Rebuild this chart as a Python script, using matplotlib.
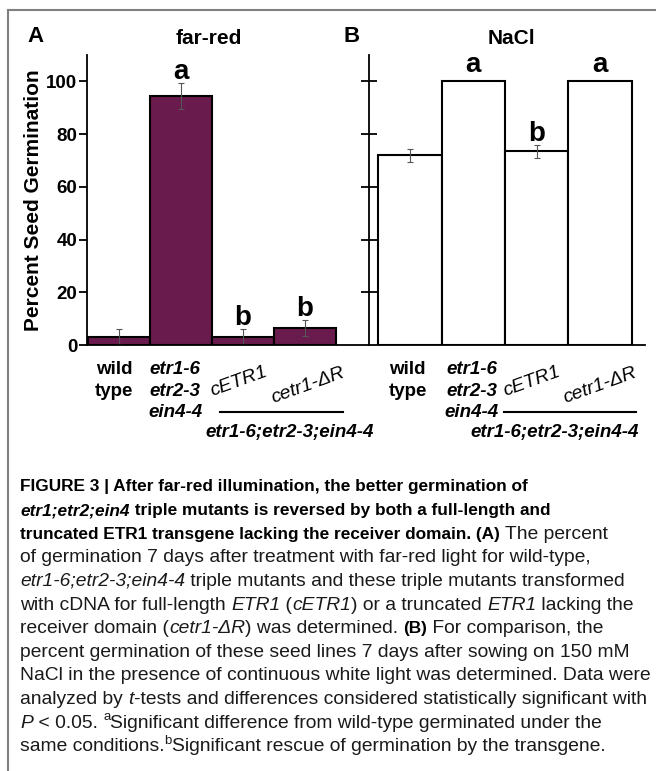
import matplotlib
matplotlib.use('Agg')
import matplotlib.pyplot as plt
from matplotlib.lines import Line2D

W, H = 656, 771

# Data
positions = [0, 1, 2, 3]
farred_mean = [3.2, 94.4, 3.2, 6.4]
farred_err = [2.8, 5.0, 2.8, 3.0]
farred_sig = ['', 'a', 'b', 'b']
nacl_mean = [71.9, 100, 73.4, 100]
nacl_err = [2.5, 0, 2.5, 0]
nacl_sig = ['', 'a', 'b', 'a']
yticks = [0, 20, 40, 60, 80, 100]
yticks_b = [20, 40, 60, 80, 100]

plt.rcParams['font.family'] = ['Liberation Sans', 'DejaVu Sans']

cap_family = ['Liberation Sans', 'DejaVu Sans']
cap_bold = 12.4
cap_reg = 13.9

fig = plt.figure(figsize=(W / 100, H / 100), dpi=100)

purple = '#6a1b4d'

def px(x, y):
    return x / W, 1 - y / H

axA = fig.add_axes([87 / W, 1 - 345 / H, (369 - 87) / W, 290 / H])
axB = fig.add_axes([369 / W, 1 - 345 / H, (645 - 369) / W, 290 / H])

for ax in (axA, axB):
    ax.set_ylim(0, 110)
    ax.set_xticks([])
    ax.spines['top'].set_visible(False)
    ax.spines['right'].set_visible(False)
    ax.spines['left'].set_linewidth(1.3)
    ax.spines['bottom'].set_linewidth(1.3)
    ax.patch.set_visible(False)

axA.set_xlim(-0.516, 4.032)
axB.set_xlim(-0.642, 3.705)

# panel A bars
axA.bar(positions, farred_mean, width=1.0, color=purple, edgecolor='black', linewidth=1.5)
axA.errorbar(positions, farred_mean, yerr=farred_err, fmt='none', ecolor='#555555',
             elinewidth=0.8, capsize=2.5, capthick=0.8)
axA.set_yticks(yticks)
axA.tick_params(axis='y', direction='out', length=6, width=1.3, labelsize=13.5, pad=1)
for lbl in axA.get_yticklabels():
    lbl.set_fontweight('bold')
axA.set_ylabel('Percent Seed Germination', fontsize=15, fontweight='bold', labelpad=2)

# panel B bars
axB.bar(positions, nacl_mean, width=1.0, color='white', edgecolor='black', linewidth=1.5)
xb = [p for p, e in zip(positions, nacl_err) if e > 0]
mb = [m for m, e in zip(nacl_mean, nacl_err) if e > 0]
eb = [e for e in nacl_err if e > 0]
axB.errorbar(xb, mb, yerr=eb, fmt='none', ecolor='#555555', elinewidth=0.8, capsize=2.5, capthick=0.8)
axB.set_yticks(yticks_b)
axB.tick_params(axis='y', direction='inout', length=11, width=1.3, labelleft=False)

# significance letters
for ax, means, errs, sigs in ((axA, farred_mean, farred_err, farred_sig),
                              (axB, nacl_mean, nacl_err, nacl_sig)):
    for p, m, e, s in zip(positions, means, errs, sigs):
        if s:
            off = 4 if e > 0 else 9
            ax.annotate(s, xy=(p, m + e), xytext=(0, off), textcoords='offset pixels',
                        ha='center', va='baseline', fontsize=20, fontweight='bold')

# genotype labels under the bars (offsets in pixels from bar centre / baseline)
def labels(ax, dx_wt, dx_trip, dx_c, dx_d, line_x, bottom_x):
    kw = dict(xycoords=('data', 'axes fraction'), textcoords='offset pixels', annotation_clip=False)
    ax.annotate('wild\ntype', xy=(0, 0), xytext=(dx_wt, -16), ha='center', va='top',
                fontsize=13.5, fontweight='bold', linespacing=1.35, **kw)
    ax.annotate('etr1-6\netr2-3\nein4-4', xy=(1, 0), xytext=(dx_trip, -16), ha='center', va='top',
                fontsize=13.5, fontweight='bold', style='italic', linespacing=1.35, **kw)
    ax.annotate('cETR1', xy=(2, 0), xytext=(dx_c, -37), ha='center', va='center', rotation=20,
                rotation_mode='anchor', fontsize=14, style='italic', **kw)
    ax.annotate('cetr1-ΔR', xy=(3, 0), xytext=(dx_d, -41), ha='center', va='center', rotation=20,
                rotation_mode='anchor', fontsize=14, style='italic', **kw)
    x0, x1 = line_x
    fig.add_artist(Line2D([x0 / W, x1 / W], [1 - 412 / H, 1 - 412 / H], color='black', lw=1.5))
    fig.text(bottom_x / W, 1 - 433 / H, 'etr1-6;etr2-3;ein4-4', ha='center', va='center',
             fontsize=13.5, fontweight='bold', style='italic')

labels(axA, -5, -6, -4, 3, (220, 343), 290)
labels(axB, -2, -1.5, -5, 0, (504, 636), 555)

# titles and panel letters
fig.text(*px(209, 39), 'far-red', ha='center', va='center', fontsize=15, fontweight='bold')
fig.text(*px(511, 39), 'NaCl', ha='center', va='center', fontsize=15, fontweight='bold')
fig.text(*px(35, 37), 'A', ha='center', va='center', fontsize=16, fontweight='bold')
fig.text(*px(352, 37), 'B', ha='center', va='center', fontsize=16, fontweight='bold')

# page frame (top and left edges)
fig.add_artist(Line2D([8 / W, 8 / W], [0, 1 - 10 / H], color='#808080', lw=1.5))
fig.add_artist(Line2D([8 / W, 1], [1 - 10 / H, 1 - 10 / H], color='#808080', lw=1.5))

# caption with mixed styles
renderer = fig.canvas.get_renderer()

def seg_props(kind):
    p = dict(family=cap_family, fontsize=cap_reg, color='#1a1a1a')
    if 'B' in kind:
        p['fontweight'] = 'bold'
        p['fontsize'] = cap_bold
        p['color'] = 'black'
    if 'I' in kind:
        p['style'] = 'italic'
    if 'S' in kind:
        p['fontsize'] = cap_reg * 0.68
    return p

def text_width(s, props):
    t1 = fig.text(0, 0, '|' + s + '|', **props)
    t2 = fig.text(0, 0, '||', **props)
    w = t1.get_window_extent(renderer).width - t2.get_window_extent(renderer).width
    t1.remove()
    t2.remove()
    return w

caption = [
    [('B', 'FIGURE 3 | After far-red illumination, the better germination of')],
    [('BI', 'etr1;etr2;ein4'), ('B', ' triple mutants is reversed by both a full-length and')],
    [('B', 'truncated ETR1 transgene lacking the receiver domain. (A)'), ('R', ' The percent')],
    [('R', 'of germination 7 days after treatment with far-red light for wild-type,')],
    [('I', 'etr1-6;etr2-3;ein4-4'), ('R', ' triple mutants and these triple mutants transformed')],
    [('R', 'with cDNA for full-length '), ('I', 'ETR1'), ('R', ' ('), ('I', 'cETR1'),
     ('R', ') or a truncated '), ('I', 'ETR1'), ('R', ' lacking the')],
    [('R', 'receiver domain ('), ('I', 'cetr1-ΔR'), ('R', ') was determined. '), ('B', '(B)'),
     ('R', ' For comparison, the')],
    [('R', 'percent germination of these seed lines 7 days after sowing on 150 mM')],
    [('R', 'NaCl in the presence of continuous white light was determined. Data were')],
    [('R', 'analyzed by '), ('I', 't'), ('R', '-tests and differences considered statistically significant with')],
    [('I', 'P'), ('R', ' < 0.05. '), ('S', 'a'), ('R', 'Significant difference from wild-type germinated under the')],
    [('R', 'same conditions.'), ('S', 'b'), ('R', 'Significant rescue of germination by the transgene.')],
]

y = 487
for line in caption:
    x = 20
    for kind, s in line:
        props = seg_props(kind)
        yy = y - 6 if 'S' in kind else y
        fig.text(x / W, 1 - yy / H, s, ha='left', va='center', **props)
        x += text_width(s, props)
    y += 23.6

fig.savefig('out.png', dpi=100)
